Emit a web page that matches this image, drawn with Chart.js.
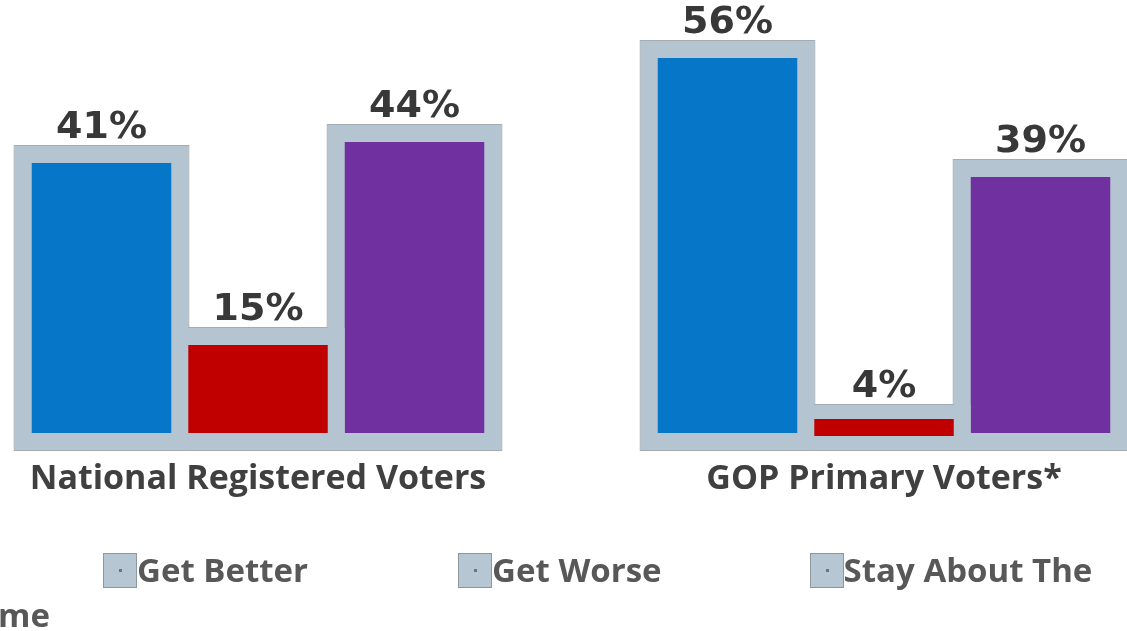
<!DOCTYPE html>
<html>
<head>
<meta charset="utf-8">
<script src="https://cdn.jsdelivr.net/npm/chart.js@4"></script>
<style>
  html, body { margin: 0; padding: 0; background: #fff; overflow: hidden; width: 1127px; height: 631px; }
  #wrap { position: absolute; left: -55px; top: 0; width: 1252px; height: 631px; }
  #legend {
    position: absolute; left: -40px; top: 547px; width: 1167px;
    font-family: "Open Sans", sans-serif; font-weight: 700; font-size: 33px;
    line-height: 45px; color: #585858; white-space: normal;
  }
  .box {
    display: inline-block; width: 32px; height: 33px; vertical-align: -6px;
    background: #b6c6d2; border: 1.5px solid #8e979e; position: relative;
  }
  .box i { position: absolute; left: 15px; top: 15px; width: 3px; height: 3px; background: #5b7a94; }
</style>
</head>
<body>
<div id="wrap"><canvas id="c" width="1252" height="631"></canvas></div>
<div id="legend"></div>
<script>
const categories = ["National Registered Voters", "GOP Primary Voters*"];
const seriesNames = ["Get Better", "Get Worse", "Stay About The Same"];
const getBetter = [41, 56];
const getWorse = [15, 4];
const staySame = [44, 39];
const seriesColors = ["#0676c8", "#c00000", "#7030a0"];
const borderGray = "#b4c4d0";

const seriesValues = [getBetter, getWorse, staySame];

const outlinePlugin = {
  id: 'outline',
  beforeDatasetsDraw(chart) {
    const ctx = chart.ctx;
    ctx.save();
    ctx.strokeStyle = '#a3acb3';
    ctx.lineWidth = 1;
    chart.data.datasets.forEach((ds, i) => {
      chart.getDatasetMeta(i).data.forEach(el => {
        const p = el.getProps(['x', 'y', 'base', 'width'], true);
        const inf = 8.5;
        const l = p.x - p.width / 2 - inf - 0.5;
        const r = p.x + p.width / 2 + inf + 0.5;
        const t = p.y - inf - 0.5;
        const b = p.base + inf + 0.5;
        ctx.strokeRect(l, t, r - l, b - t);
      });
    });
    ctx.restore();
  }
};

const valueLabels = {
  id: 'valueLabels',
  afterDatasetsDraw(chart) {
    const ctx = chart.ctx;
    ctx.save();
    ctx.font = 'bold 38px "DejaVu Sans"';
    ctx.fillStyle = '#383838';
    ctx.textAlign = 'center';
    ctx.textBaseline = 'alphabetic';
    chart.data.datasets.forEach((ds, i) => {
      chart.getDatasetMeta(i).data.forEach((el, j) => {
        const p = el.getProps(['x', 'y'], true);
        ctx.fillText(ds.data[j] + '%', p.x, p.y - 8.5 - 8);
      });
    });
    ctx.restore();
  }
};

const chart = new Chart(document.getElementById('c'), {
  type: 'bar',
  data: {
    labels: categories,
    datasets: seriesNames.map((name, i) => ({
      label: name,
      data: seriesValues[i],
      backgroundColor: seriesColors[i],
      borderColor: borderGray,
      borderWidth: 17,
      borderSkipped: false,
      inflateAmount: 8.5,
      categoryPercentage: 0.75,
      barPercentage: 1.0,
      clip: false
    }))
  },
  options: {
    responsive: false,
    animation: false,
    devicePixelRatio: 1,
    layout: { padding: { top: 21.5, left: 0, right: 0, bottom: 0 } },
    plugins: { legend: { display: false }, tooltip: { enabled: false } },
    scales: {
      y: { display: false, min: 0, max: 60 },
      x: {
        grid: { display: false, drawTicks: false },
        border: { display: false },
        ticks: {
          padding: 17,
          color: '#404040',
          font: { family: 'Open Sans', weight: 'bold', size: 34 }
        },
        afterFit(scale) { scale.height = 189.5; }
      }
    }
  },
  plugins: [outlinePlugin, valueLabels]
});

const legend = document.getElementById('legend');
const itemMargins = [143, 150, 148];
chart.data.datasets.forEach((ds, i) => {
  const item = document.createElement('span');
  item.style.marginLeft = itemMargins[i] + 'px';
  const box = document.createElement('span');
  box.className = 'box';
  box.appendChild(document.createElement('i'));
  item.appendChild(box);
  item.appendChild(document.createTextNode(ds.label));
  legend.appendChild(item);
});
</script>
</body>
</html>
